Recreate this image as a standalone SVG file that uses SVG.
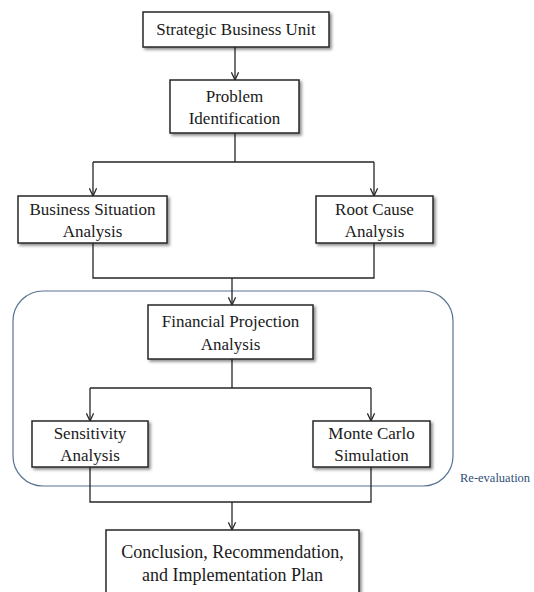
<svg xmlns="http://www.w3.org/2000/svg" width="534" height="592" viewBox="0 0 534 592">
  <style>
    .box { fill: #ffffff; stroke: #262626; stroke-width: 1.5; filter: url(#shadow); }
    .lbl { font-family: "Liberation Serif", "Times New Roman", serif; font-size: 17px; fill: #1a1a1a; text-anchor: middle; }
    .big { font-size: 18px; }
    .wire { fill: none; stroke: #262626; stroke-width: 1.3; }
    .arrow { fill: none; stroke: #262626; stroke-width: 1.3; marker-end: url(#vhead); }
    .loop { fill: none; stroke: #5a7393; stroke-width: 1.2; }
    .note { font-family: "Liberation Serif", "Times New Roman", serif; font-size: 12.5px; fill: #2f4f78; }
  </style>
  <defs>
    <filter id="shadow" x="-10%" y="-10%" width="130%" height="140%">
      <feDropShadow dx="2" dy="2" stdDeviation="1.5" flood-color="#000000" flood-opacity="0.45"/>
    </filter>
    <marker id="vhead" viewBox="0 0 10 10" refX="9.5" refY="5" markerWidth="9" markerHeight="9" markerUnits="userSpaceOnUse" orient="auto">
      <path d="M1,1 L9.5,5 L1,9" fill="none" stroke="#262626" stroke-width="1.4"/>
    </marker>
  </defs>

  <rect width="534" height="592" fill="#ffffff"/>

  <!-- re-evaluation loop around the financial analysis stage -->
  <g id="reevaluation">
    <rect class="loop" x="13" y="291" width="440" height="195" rx="30" ry="30"/>
    <text class="note" x="460" y="482">Re-evaluation</text>
  </g>

  <g id="connectors">
    <path class="arrow" d="M235,47 V80"/>
    <path class="wire" d="M235,133 V162 H93 M235,162 H374"/>
    <path class="arrow" d="M93,162 V196"/>
    <path class="arrow" d="M374,162 V196"/>
    <path class="wire" d="M93,243 V278 H374 V243"/>
    <path class="arrow" d="M232,278 V305"/>
    <path class="wire" d="M232,359 V388 H90 M232,388 H371"/>
    <path class="arrow" d="M90,388 V421"/>
    <path class="arrow" d="M371,388 V421"/>
    <path class="wire" d="M90,467 V502 H371 V467"/>
    <path class="arrow" d="M232,502 V530"/>
  </g>

  <g id="sbu">
    <rect class="box" x="143" y="12" width="186" height="35"/>
    <text class="lbl" x="236" y="35">Strategic Business Unit</text>
  </g>

  <g id="problem">
    <rect class="box" x="170" y="80" width="129" height="53"/>
    <text class="lbl" x="234.5" y="102">Problem</text>
    <text class="lbl" x="234.5" y="124">Identification</text>
  </g>

  <g id="situation">
    <rect class="box" x="18" y="196" width="149" height="47"/>
    <text class="lbl" x="92.5" y="215">Business Situation</text>
    <text class="lbl" x="92.5" y="237">Analysis</text>
  </g>

  <g id="rootcause">
    <rect class="box" x="316" y="196" width="117" height="47"/>
    <text class="lbl" x="374.5" y="215">Root Cause</text>
    <text class="lbl" x="374.5" y="237">Analysis</text>
  </g>

  <g id="projection">
    <rect class="box" x="148" y="305" width="165" height="54"/>
    <text class="lbl" x="230.5" y="327">Financial Projection</text>
    <text class="lbl" x="230.5" y="350">Analysis</text>
  </g>

  <g id="sensitivity">
    <rect class="box" x="32" y="421" width="116" height="46"/>
    <text class="lbl" x="90" y="439">Sensitivity</text>
    <text class="lbl" x="90" y="461">Analysis</text>
  </g>

  <g id="montecarlo">
    <rect class="box" x="313" y="421" width="117" height="46"/>
    <text class="lbl" x="371.5" y="439">Monte Carlo</text>
    <text class="lbl" x="371.5" y="461">Simulation</text>
  </g>

  <g id="conclusion">
    <rect class="box" x="106" y="530" width="253" height="75"/>
    <text class="lbl big" x="232.5" y="558">Conclusion, Recommendation,</text>
    <text class="lbl big" x="232.5" y="581">and Implementation Plan</text>
  </g>
</svg>
